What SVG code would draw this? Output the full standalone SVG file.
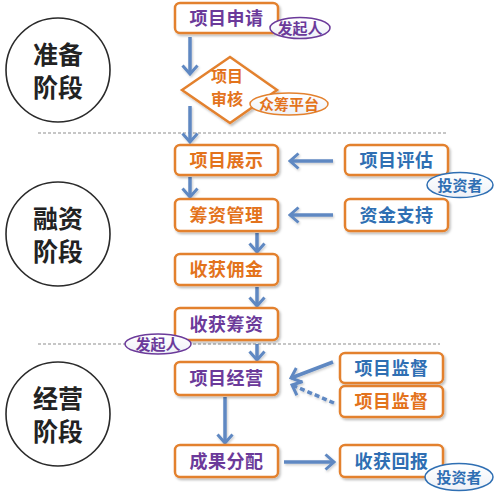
<svg xmlns="http://www.w3.org/2000/svg" width="500" height="494" viewBox="0 0 500 494">
<style>
text{font-family:"Noto Sans CJK SC","Noto Sans",sans-serif;font-weight:bold;text-anchor:middle}
.box{fill:#fff;stroke:#e3812e;stroke-width:2.5;filter:url(#sh)}
.t{font-size:18px;letter-spacing:0.5px}
.pu{fill:#6b3a9a}
.or{fill:#e3731c}
.bl{fill:#2f6fb3}
.stage{fill:#fff;stroke:#2a2a2a;stroke-width:1.6}
.st{font-size:25px;fill:#222}
.tag{font-size:15px}
.div{stroke:#8e8e8e;stroke-width:1.2;stroke-dasharray:3 2}
.arr{stroke:#5f88c2;stroke-width:3.5;fill:none;marker-end:url(#hd)}
.dash{stroke-dasharray:5 3}
</style>
<defs>
<filter id="sh" x="-10%" y="-20%" width="130%" height="160%">
<feDropShadow dx="1.5" dy="2" stdDeviation="1.2" flood-color="#000" flood-opacity="0.25"/>
</filter>
<filter id="sh2" filterUnits="userSpaceOnUse" x="0" y="0" width="500" height="494">
<feDropShadow dx="1" dy="1.5" stdDeviation="1" flood-color="#000" flood-opacity="0.2"/>
</filter>
<linearGradient id="eg" x1="0" y1="0" x2="0" y2="1">
<stop offset="0" stop-color="#ffffff"/>
<stop offset="1" stop-color="#eef1f7"/>
</linearGradient>
<marker id="hd" markerUnits="userSpaceOnUse" viewBox="0 0 12 18" markerWidth="12" markerHeight="18" refX="10" refY="9" orient="auto">
<path d="M1.5,1.5 L10,9 L1.5,16.5" fill="none" stroke="#5f88c2" stroke-width="3" stroke-linejoin="miter"/>
</marker>
</defs>

<g id="dividers">
<line class="div" x1="38" y1="133" x2="447" y2="133"/>
<line class="div" x1="38" y1="344" x2="440" y2="344"/>
</g>

<g id="stage-prepare">
<circle class="stage" cx="58" cy="70" r="52"/>
<text class="st" x="58" y="64">准备</text>
<text class="st" x="58" y="97">阶段</text>
</g>
<g id="stage-finance">
<circle class="stage" cx="58" cy="234" r="52"/>
<text class="st" x="58" y="228">融资</text>
<text class="st" x="58" y="261">阶段</text>
</g>
<g id="stage-operate">
<circle class="stage" cx="58" cy="414" r="52"/>
<text class="st" x="58" y="408">经营</text>
<text class="st" x="58" y="441">阶段</text>
</g>

<g id="connectors" filter="url(#sh2)">
<line class="arr" x1="190" y1="37" x2="190" y2="74"/>
<line class="arr" x1="190" y1="106" x2="190" y2="142"/>
<line class="arr" x1="190" y1="177" x2="190" y2="197"/>
<line class="arr" x1="257" y1="233" x2="257" y2="252"/>
<line class="arr" x1="257" y1="287" x2="257" y2="306"/>
<line class="arr" x1="257" y1="344" x2="257" y2="360"/>
<line class="arr" x1="225" y1="397" x2="225" y2="443"/>
<line class="arr" x1="284" y1="462" x2="334" y2="462"/>
<line class="arr" x1="333" y1="161" x2="290" y2="161"/>
<line class="arr" x1="333" y1="215" x2="290" y2="215"/>
<line class="arr" x1="333" y1="362" x2="291" y2="378"/>
<line class="arr dash" x1="334" y1="403" x2="292" y2="385"/>
</g>

<g id="n-apply">
<rect class="box" x="175" y="3" width="103" height="30" rx="5"/>
<text class="t pu" x="226.5" y="24.5">项目申请</text>
</g>
<g id="tag-initiator-1">
<ellipse cx="300" cy="28" rx="30" ry="10.5" fill="url(#eg)" stroke="#6b3a9a" stroke-width="1.5"/>
<text class="tag pu" x="300" y="33.5">发起人</text>
</g>

<g id="n-review">
<polygon points="182,90 230,57 277,90 230,123" fill="#fff" stroke="#e3812e" stroke-width="2.5" filter="url(#sh)"/>
<text class="or" font-size="16" x="227" y="82">项目</text>
<text class="or" font-size="16" x="227" y="105">审核</text>
</g>
<g id="tag-platform">
<ellipse cx="289" cy="104" rx="39" ry="11" fill="url(#eg)" stroke="#e3812e" stroke-width="1.5"/>
<text class="tag or" x="289" y="109.5">众筹平台</text>
</g>

<g id="n-show">
<rect class="box" x="175" y="145" width="103" height="30" rx="5"/>
<text class="t or" x="226.5" y="166.5">项目展示</text>
</g>
<g id="n-eval">
<rect class="box" x="345" y="145" width="103" height="30" rx="5"/>
<text class="t bl" x="396.5" y="166.5">项目评估</text>
</g>
<g id="tag-investor-1">
<ellipse cx="460" cy="185" rx="33" ry="12.5" fill="url(#eg)" stroke="#2f6fb3" stroke-width="1.5"/>
<text class="tag bl" x="460" y="190.5">投资者</text>
</g>

<g id="n-manage">
<rect class="box" x="175" y="199" width="103" height="32" rx="5"/>
<text class="t or" x="226.5" y="221.5">筹资管理</text>
</g>
<g id="n-fund">
<rect class="box" x="345" y="199" width="103" height="32" rx="5"/>
<text class="t bl" x="396.5" y="221.5">资金支持</text>
</g>

<g id="n-commission">
<rect class="box" x="175" y="254" width="103" height="31" rx="5"/>
<text class="t or" x="226.5" y="276">收获佣金</text>
</g>
<g id="n-raised">
<rect class="box" x="175" y="308" width="103" height="32" rx="5"/>
<text class="t pu" x="226.5" y="330.5">收获筹资</text>
</g>
<g id="tag-initiator-2">
<ellipse cx="158" cy="344" rx="33" ry="10" fill="url(#eg)" stroke="#6b3a9a" stroke-width="1.5"/>
<text class="tag pu" x="158" y="349.5">发起人</text>
</g>

<g id="n-operate">
<rect class="box" x="175" y="362" width="103" height="33" rx="5"/>
<text class="t pu" x="226.5" y="385">项目经营</text>
</g>
<g id="n-supervise-1">
<rect class="box" x="340" y="353" width="103" height="30" rx="5"/>
<text class="t bl" x="391.5" y="374.5">项目监督</text>
</g>
<g id="n-supervise-2">
<rect class="box" x="340" y="386" width="103" height="31" rx="5"/>
<text class="t or" x="391.5" y="408">项目监督</text>
</g>

<g id="n-distribute">
<rect class="box" x="175" y="445" width="103" height="32" rx="5"/>
<text class="t pu" x="226.5" y="467.5">成果分配</text>
</g>
<g id="n-return">
<rect class="box" x="340" y="445" width="103" height="32" rx="5"/>
<text class="t bl" x="391.5" y="467.5">收获回报</text>
</g>
<g id="tag-investor-2">
<ellipse cx="459" cy="477" rx="34" ry="13.5" fill="url(#eg)" stroke="#2f6fb3" stroke-width="1.5"/>
<text class="tag bl" x="459" y="482.5">投资者</text>
</g>
</svg>
